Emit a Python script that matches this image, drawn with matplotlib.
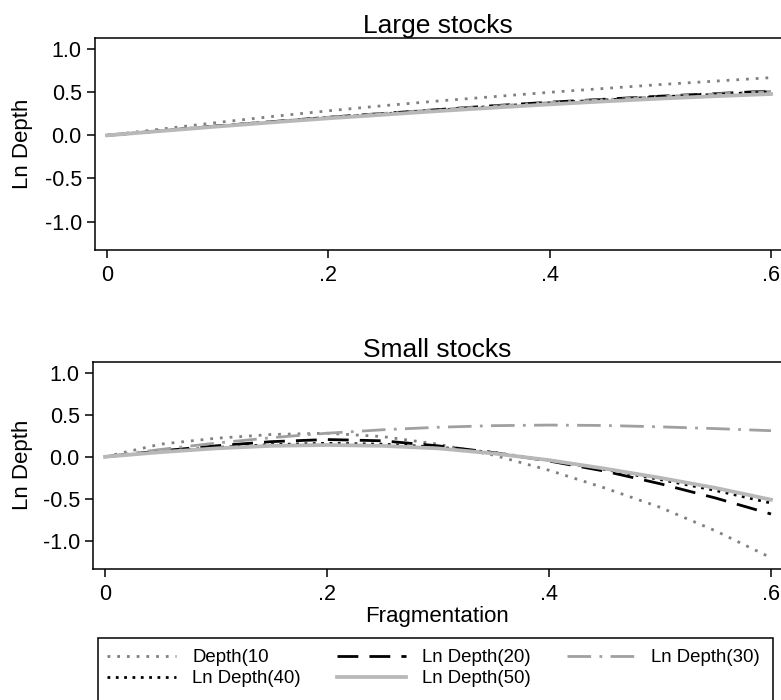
import numpy as np
import matplotlib
matplotlib.use("Agg")
import matplotlib.pyplot as plt
from matplotlib.patches import Rectangle

plt.rcParams['font.family'] = ['Liberation Sans', 'DejaVu Sans']
plt.rcParams['axes.unicode_minus'] = False

# fragmentation grid
frag = [0.0, 0.05, 0.10, 0.15, 0.20, 0.25, 0.30, 0.35, 0.40, 0.45, 0.50, 0.55, 0.60]

# large stocks
large_d10 = [0, .075, .15, .22, .285, .345, .40, .45, .50, .545, .59, .63, .67]
large_d20 = [0, .055, .11, .16, .21, .255, .30, .345, .385, .42, .455, .485, .515]
large_d30 = [0, .055, .11, .16, .21, .255, .30, .34, .38, .415, .45, .48, .51]
large_d40 = [0, .054, .108, .158, .205, .25, .295, .335, .375, .41, .445, .475, .505]
large_d50 = [0, .052, .103, .152, .198, .24, .283, .322, .36, .395, .427, .455, .48]

# small stocks
small_d10 = [0, .15, .22, .265, .28, .24, .15, .02, -.16, -.37, -.60, -.88, -1.20]
small_d20 = [0, .07, .13, .18, .205, .19, .13, .05, -.05, -.17, -.32, -.49, -.68]
small_d30 = [0, .087, .163, .227, .28, .321, .351, .37, .377, .372, .356, .335, .31]
small_d40 = [0, .06, .11, .145, .16, .15, .115, .05, -.04, -.15, -.27, -.40, -.55]
small_d50 = [0, .055, .10, .13, .14, .13, .10, .04, -.04, -.14, -.25, -.37, -.51]

labels = ['Depth(10', 'Ln Depth(20)', 'Ln Depth(30)', 'Ln Depth(40)', 'Ln Depth(50)']
yticks = [1.0, 0.5, 0.0, -0.5, -1.0]
ytick_labels = ['1.0', '0.5', '0.0', '-0.5', '-1.0']
xticks = [0, 0.2, 0.4, 0.6]
xtick_labels = ['0', '.2', '.4', '.6']

styles = [
    dict(color='#808080', lw=2.0, linestyle=(0, (1, 2.5))),
    dict(color='black', lw=2.0, linestyle=(0, (7.5, 4))),
    dict(color='#a0a0a0', lw=2.0, linestyle=(0, (8.5, 3, 1, 3))),
    dict(color='black', lw=2.0, linestyle=(0, (1, 2))),
    dict(color='#b8b8b8', lw=2.7, linestyle='-'),
]

fig = plt.figure(figsize=(7.81, 7.0), dpi=100)
ax1 = fig.add_axes([95/781, 1-250/700, 686/781, 212/700])
ax2 = fig.add_axes([93/781, 1-568.7/700, 688/781, 207/700])


def setup(ax, title):
    ax.set_xlim(-0.0108, 0.609)
    ax.set_ylim(-1.33, 1.13)
    ax.spines['right'].set_visible(False)
    for s in ['left', 'top', 'bottom']:
        ax.spines[s].set_linewidth(1.1)
    ax.set_yticks(yticks)
    ax.set_yticklabels(ytick_labels)
    ax.set_xticks(xticks)
    ax.set_xticklabels(xtick_labels)
    ax.tick_params(axis='both', labelsize=15.5, length=6, width=1.1, direction='out')
    ax.tick_params(axis='y', pad=3.5)
    ax.tick_params(axis='x', pad=5)
    ax.set_title(title, fontsize=19, pad=3)
    ax.set_ylabel('Ln Depth', fontsize=16)


series_large = [large_d10, large_d20, large_d30, large_d40, large_d50]
series_small = [small_d10, small_d20, small_d30, small_d40, small_d50]

lines = []
for vals, st, lab in zip(series_large, styles, labels):
    ax1.plot(frag, vals, label=lab, **st)
for vals, st, lab in zip(series_small, styles, labels):
    ln, = ax2.plot(frag, vals, label=lab, **st)
    lines.append(ln)

setup(ax1, 'Large stocks')
setup(ax2, 'Small stocks')
ax1.yaxis.set_label_coords((33-95)/686, 0.5)
ax2.yaxis.set_label_coords((33-93)/688, 0.5)
ax2.set_xlabel('Fragmentation', fontsize=16, labelpad=1)

# legend filled row by row: D10 D20 D30 / D40 D50
order = [0, 3, 1, 4, 2]
leg = fig.legend([lines[i] for i in order], [labels[i] for i in order], ncol=3,
                 loc='upper left', bbox_to_anchor=(100/781, 1-642/700),
                 borderaxespad=0, fontsize=13.4, frameon=False, handlelength=3.7,
                 handletextpad=0.85, columnspacing=1.95, labelspacing=0.2,
                 borderpad=0.4)

# legend box runs past the bottom edge
fig.patches.append(Rectangle((98/781, -0.02), (773-98)/781, 0.02 + (700-638)/700,
                             transform=fig.transFigure, fill=False,
                             edgecolor='black', linewidth=1.1))

fig.savefig('out.png', dpi=100)
